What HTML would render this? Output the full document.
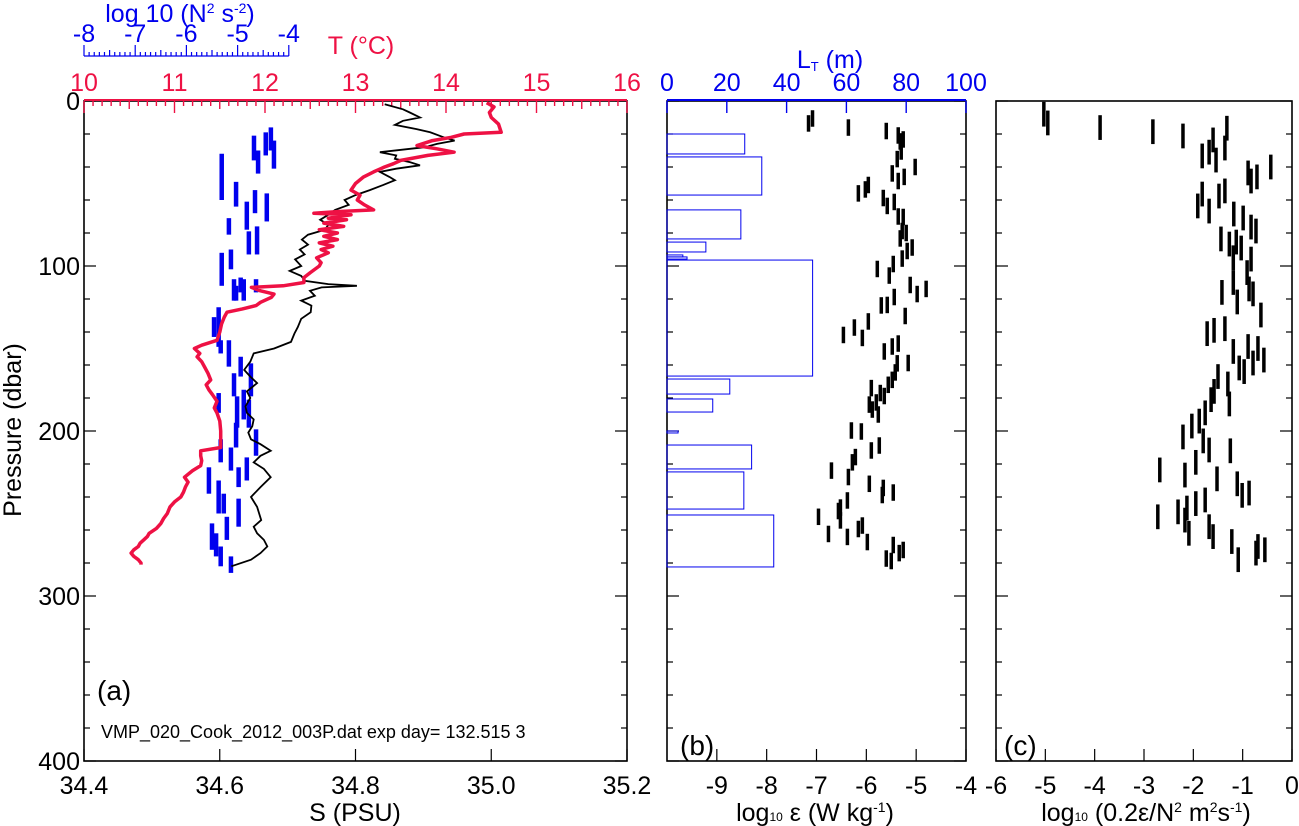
<!DOCTYPE html>
<html><head><meta charset="utf-8"><style>
body{margin:0;background:#fff}
svg{display:block;font-family:"Liberation Sans",Arial,sans-serif}
</style></head><body>
<svg id="fig" width="1299" height="826" viewBox="0 0 1299 826" xmlns="http://www.w3.org/2000/svg"></svg>
<script>
// ---------- data ----------
const salP=[2,5,7,10,12,14.5,17,19,22,24,26,28,31,33,35,37,39,41,43,46,48,51,54,57,60,63,66,69,72,75,78,81,84,87,90,93,96,100,103,106,109,111,112,113,115,118,121,124,128,132,137,141,146,150,153,158,163,167,171,176,180,185,189,193,197,201,205,208,212,215,219,223,228,234,240,246,254,258,262,266,270,274,278,282];
const salS=[34.843,34.87,34.88,34.895,34.87,34.858,34.89,34.91,34.93,34.946,34.92,34.902,34.836,34.86,34.858,34.88,34.895,34.86,34.836,34.85,34.858,34.84,34.821,34.80,34.784,34.79,34.77,34.76,34.748,34.76,34.755,34.73,34.721,34.73,34.718,34.725,34.711,34.72,34.703,34.72,34.726,34.76,34.802,34.75,34.733,34.74,34.72,34.735,34.734,34.72,34.715,34.71,34.705,34.68,34.650,34.645,34.636,34.645,34.655,34.64,34.645,34.638,34.640,34.650,34.648,34.642,34.646,34.66,34.675,34.66,34.650,34.665,34.675,34.66,34.646,34.655,34.661,34.65,34.655,34.665,34.670,34.66,34.646,34.617];
const tmpP=[1,3.6,7,10,14,19,20,22,24,27,29,31,33,36,38,40,43,46,50,54,57,60,63,66,67,68,69,71,72,74,76,78,80,82,84,86,88,90,92,95,98,100,104,107,110,112,113,115,117,119,122,124,126,128,131,135,140,145,148,150,153,155,158,161,165,169,172,175,178,182,186,189,194,200,205,210,212,215,218,221,224,228,231,234,237,240,243,246,250,253,256,259,262,264,266,268,270,272,274,276,278,280,281];
const tmpT=[14.45,14.53,14.48,14.5,14.58,14.61,14.2,14.06,13.85,13.68,13.9,14.09,13.8,13.5,13.42,13.32,13.2,13.09,13.0,12.95,13.05,13.02,13.1,13.2,12.8,12.54,12.95,12.7,12.9,12.65,12.87,12.6,12.8,12.65,12.8,12.6,12.75,12.62,12.7,12.57,12.62,12.6,12.5,12.43,12.43,12.2,11.85,11.95,12.1,12.07,11.95,11.9,11.75,11.58,11.55,11.52,11.5,11.47,11.3,11.22,11.28,11.25,11.3,11.33,11.37,11.4,11.35,11.38,11.42,11.47,11.44,11.47,11.5,11.51,11.51,11.51,11.29,11.29,11.3,11.29,11.2,11.11,11.15,11.12,11.1,11.07,11.0,10.95,10.92,10.88,10.85,10.8,10.72,10.7,10.66,10.62,10.6,10.55,10.52,10.55,10.6,10.63,10.63];
const n2Top=[16,24,19,21,30,32,49,54,56,71,61,79,76,92,90,107,112,108,108,108,125,131,145,145,155,165,159,177,179,175,181,195,199,205,210,216,222,222,230,238,241,256,252,270,276,262];
const n2Bot=[30,41,33,36,44,60,64,68,73,81,78,93,93,112,102,116,121,121,116,121,149,143,161,153,167,179,179,189,198,193,198,210,215,219,224,230,238,234,250,250,258,272,266,282,286,276];
const n2Val=[-4.35,-4.29,-4.45,-4.68,-4.60,-5.31,-5.03,-4.66,-4.43,-5.17,-4.82,-4.78,-4.62,-5.31,-5.13,-4.94,-5.03,-4.88,-4.64,-5.07,-5.37,-5.46,-5.17,-5.33,-4.94,-5.07,-4.74,-5.37,-5.01,-4.88,-4.78,-5.03,-4.64,-5.33,-5.13,-4.82,-5.56,-4.98,-5.37,-5.27,-4.98,-5.50,-5.21,-5.33,-5.13,-5.42];
const ltTop=[20,33.9,66,85.5,93.3,94.5,96.4,168.5,180.6,200,208.5,224.8,250.9];
const ltBot=[32.1,57,83.6,91.5,94.5,95.8,166.7,177.6,188.5,201.2,223,247.3,282.4];
const ltVal=[26,31.7,24.7,13,5.3,6.7,48.7,21,15.3,3.7,28.3,25.7,35.7];
const epsP=[10.6,13.6,16.1,18.2,20.9,24.5,23.3,30.6,35.2,40,43.9,48.5,46,56,53.6,50.9,58.8,63.6,61.2,70,70.3,78.8,80,83.3,88.8,90.9,95.5,98.8,101.8,105.8,111.5,117,113.9,123.9,123.6,118.8,130.3,133.6,137.3,141.8,143.6,151.8,148.8,147,158.8,159,164.5,169,172,174,177,178.8,184,182.7,187,190,199.7,200.3,211.8,208.8,215.8,219,227.9,224,232,234.5,238.8,237.3,246.4,242.1,248.5,252,254.2,262.4,259.4,257.3,264.2,267.3,269.1,277.3,278.8,274,272.1];
const epsV=[-7.08,-7.16,-6.36,-5.6,-5.36,-5.32,-5.26,-5.3,-5.38,-5.02,-5.48,-5.36,-5.24,-6.16,-6.02,-5.96,-5.66,-5.58,-5.44,-5.36,-5.26,-5.28,-5.2,-5.32,-5.08,-5.18,-5.28,-5.46,-5.78,-5.54,-5.12,-4.98,-4.8,-5.7,-5.58,-5.44,-5.22,-5.96,-6.24,-6.46,-6.08,-5.64,-5.48,-5.36,-5.16,-5.38,-5.42,-5.48,-5.56,-5.9,-5.72,-5.64,-5.94,-5.8,-5.88,-5.76,-6.3,-6.1,-5.9,-5.74,-6.22,-6.28,-6.36,-6.7,-5.94,-5.66,-5.68,-5.46,-6.52,-6.38,-6.56,-6.96,-6.52,-6.76,-6.16,-6.08,-6.38,-5.98,-5.46,-5.6,-5.5,-5.34,-5.26];
const kP=[8,13.3,16.1,18.6,21.2,16.5,33.3,31,23.6,35.8,28.5,43.6,48.5,46,40,63.6,56.4,66.7,57.6,54.5,68.5,70.9,76.4,78.8,83.6,86.7,85.5,89.1,95,104,95.8,116,110,121.8,113.9,116.9,129.7,141,139,138,151.8,148.8,161.8,164,158.8,150,157,167,176,181,171.5,183.6,189,194,197,203.6,206,211.5,212,219,223.6,226.7,229,232,239,237.6,252,249,246.7,254,262,244,241.8,258,264,267,278,274,270,272];
const kV=[-5.03,-4.95,-3.89,-2.82,-2.21,-1.32,-1.82,-1.68,-1.6,-1.54,-1.36,-0.89,-0.83,-0.71,-0.43,-1.91,-1.82,-1.68,-1.48,-1.36,-1.18,-0.99,-0.83,-0.73,-1.44,-1.27,-1.13,-1.03,-1.19,-0.91,-0.83,-1.42,-1.19,-1.11,-0.87,-0.79,-0.63,-1.72,-1.58,-1.36,-1.19,-0.89,-1.07,-0.97,-0.79,-0.69,-0.57,-1.5,-1.58,-1.64,-1.3,-1.27,-1.76,-1.88,-2.03,-2.21,-1.8,-1.68,-1.25,-1.95,-2.68,-2.17,-1.52,-1.11,-1.01,-0.87,-2.72,-2.31,-2.13,-2.17,-2.09,-1.95,-1.76,-1.68,-1.6,-1.22,-1.09,-0.73,-0.69,-0.55];
const sTicks=["34.4","34.6","34.8","35.0","35.2"];
const tTicks=["10","11","12","13","14","15","16"];
const n2Ticks=["-8","-7","-6","-5","-4"];
const pTicks=["0","100","200","300","400"];
const ltTicks=["0","20","40","60","80","100"];
const epsTicks=["-9","-8","-7","-6","-5","-4"];
const kTicks=["-6","-5","-4","-3","-2","-1","0"];

// ---------- scales ----------
const Y0=101,Y1=761;
const yP=p=>Y0+p*(Y1-Y0)/400;
const aL=84,aR=627,bL=667,bR=966,cL=996,cR=1292;
const xS=s=>aL+(s-34.4)/0.8*(aR-aL);
const xT=t=>aL+(t-10)/6*(aR-aL);
const xN=v=>aL+(v+8)*51.2;
const xE=v=>bL+(v+10)*(bR-bL)/6;
const xL=l=>bL+l*(bR-bL)/100;
const xK=v=>cL+(v+6)*(cR-cL)/6;
const FS=25;

const svg=document.getElementById('fig');
const NS='http://www.w3.org/2000/svg';
function mk(tag,attrs,parent){const e=document.createElementNS(NS,tag);for(const k in attrs)e.setAttribute(k,attrs[k]);(parent||svg).appendChild(e);return e;}
function txt(x,y,s,size,fill,anchor,parent){const t=mk('text',{x:x,y:y,'font-size':size,fill:fill,'text-anchor':anchor||'middle'},parent);t.textContent=s;return t;}

[[aL,aR,'panel-a-frame'],[bL,bR,'panel-b-frame'],[cL,cR,'panel-c-frame']].forEach(f=>{
  const r=mk('rect',{x:f[0],y:Y0,width:f[1]-f[0],height:Y1-Y0,fill:'none',stroke:'#000','stroke-width':1.6});
  
  
});
const yt=mk('g',{stroke:'#000','stroke-width':1.2});


for(let p=0;p<=400;p+=20){const y=yP(p);const L=(p%100==0)?12:6;
  [[aL,aR],[bL,bR],[cL,cR]].forEach(f=>{mk('line',{x1:f[0],y1:y,x2:f[0]+L,y2:y},yt);mk('line',{x1:f[1],y1:y,x2:f[1]-L,y2:y},yt);});}
const pl=mk('g',{});


pTicks.forEach(s=>txt(aL-4,yP(+s)+9,s,FS,'#000','end',pl));
const yl=txt(0,0,'Pressure (dbar)',FS,'#000','middle');
yl.setAttribute('transform','translate(21,430) rotate(-90)');



function bottom(ticks,fx,name){
  const g=mk('g',{});
  
  
  ticks.forEach(s=>{const x=fx(+s);mk('line',{x1:x,y1:Y1,x2:x,y2:Y1-12,stroke:'#000','stroke-width':1.2},g);txt(x,794,s,FS,'#000','middle',g);});
}
bottom(sTicks,xS,'salinity-axis');
bottom(epsTicks,xE,'epsilon-axis');
bottom(kTicks,xK,'diffusivity-axis');
let t1=txt(355,821,'S (PSU)',FS,'#000');
let t2=mk('text',{x:815,y:821,'font-size':FS,'text-anchor':'middle'});t2.innerHTML='log<tspan font-size="12">10</tspan> ε (W kg<tspan font-size="14" dy="-9">-1</tspan><tspan dy="9">)</tspan>';

let t3=mk('text',{x:1146,y:821,'font-size':FS,'text-anchor':'middle'});t3.innerHTML='log<tspan font-size="12">10</tspan> (0.2ε/N<tspan font-size="14" dy="-9">2</tspan><tspan dy="9"> m</tspan><tspan font-size="14" dy="-9">2</tspan><tspan dy="9">s</tspan><tspan font-size="14" dy="-9">-1</tspan><tspan dy="9">)</tspan>';


const RED='#ee1144',BLUE='#0000ee';
const tg=mk('g',{stroke:RED,'stroke-width':1.4});


mk('line',{x1:aL,y1:Y0-1,x2:aR,y2:Y0-1,'stroke-width':2},tg);
for(let i=0;i<=60;i++){const x=xT(10+i*0.1);mk('line',{x1:x,y1:Y0,x2:x,y2:Y0+(i%10==0?12:(i%5==0?8:5))},tg);}
tTicks.forEach(s=>txt(xT(+s),91,s,FS,RED,'middle'));
let tt=txt(361,54,'T  (°C)',FS,RED);

const ng=mk('g',{stroke:BLUE,'stroke-width':1.2});


const NY=56;
mk('line',{x1:xN(-8),y1:NY,x2:xN(-4),y2:NY},ng);
for(let i=0;i<=40;i++){const x=xN(-8+i*0.1);mk('line',{x1:x,y1:NY,x2:x,y2:NY-(i%10==0?11:(i%5==0?6:4))},ng);}
n2Ticks.forEach(s=>txt(xN(+s),42,s,FS,BLUE,'middle'));
let nt=mk('text',{x:180,y:22,'font-size':FS,fill:BLUE,'text-anchor':'middle'});nt.innerHTML='log 10 (N<tspan font-size="14" dy="-9">2</tspan><tspan dy="9"> s</tspan><tspan font-size="14" dy="-9">-2</tspan><tspan dy="9">)</tspan>';


const lg=mk('g',{stroke:BLUE,'stroke-width':1.4});


mk('line',{x1:bL,y1:Y0-1,x2:bR,y2:Y0-1,'stroke-width':2},lg);
ltTicks.forEach(s=>{const x=xL(+s);mk('line',{x1:x,y1:Y0,x2:x,y2:Y0+12},lg);txt(x,91,s,FS,BLUE,'middle');});
let lt=mk('text',{x:830,y:68,'font-size':FS,fill:BLUE,'text-anchor':'middle'});lt.innerHTML='L<tspan font-size="13" dy="3">T</tspan><tspan dy="-3"> (m)</tspan>';


[['(a)',97,700,'panel-a-label'],['(b)',680,755,'panel-b-label'],['(c)',1004,755,'panel-c-label']].forEach(a=>{const t=txt(a[1],a[2],a[0],28,'#000','start');});
let fn=txt(101,738,'VMP_020_Cook_2012_003P.dat exp day= 132.515  3',18,'#000','start');

fn.setAttribute('xml:space','preserve');

const n2g=mk('g',{stroke:BLUE,'stroke-width':4.5});


n2Val.forEach((v,i)=>{const l=mk('line',{x1:xN(v),x2:xN(v),y1:yP(n2Top[i]),y2:yP(n2Bot[i])},n2g);});
const sl=mk('polyline',{fill:'none',stroke:'#000','stroke-width':1.8,points:salP.map((p,i)=>xS(salS[i]).toFixed(1)+','+yP(p).toFixed(1)).join(' ')});

const tl=mk('polyline',{fill:'none',stroke:RED,'stroke-width':3.5,'stroke-linejoin':'round',points:tmpP.map((p,i)=>xT(tmpT[i]).toFixed(1)+','+yP(p).toFixed(1)).join(' ')});


const bg=mk('g',{fill:'none',stroke:BLUE,'stroke-width':1});


ltVal.forEach((v,i)=>{const r=mk('rect',{x:xL(0),y:yP(ltTop[i]),width:xL(v)-xL(0),height:yP(ltBot[i])-yP(ltTop[i])},bg);});
const eg=mk('g',{stroke:'#000','stroke-width':3.5});


epsV.forEach((v,i)=>{const l=mk('line',{x1:xE(v),x2:xE(v),y1:yP(epsP[i]-5),y2:yP(epsP[i]+5)},eg);});
const kg=mk('g',{stroke:'#000','stroke-width':3.5});


kV.forEach((v,i)=>{const l=mk('line',{x1:xK(v),x2:xK(v),y1:yP(kP[i]-7.5),y2:yP(kP[i]+7.5)},kg);});
</script>
</body></html>
